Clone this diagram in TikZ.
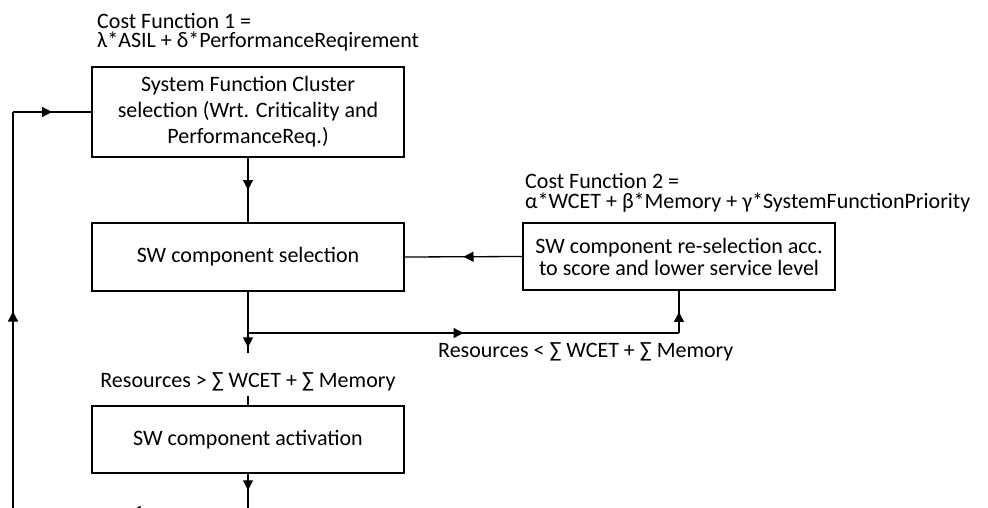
\documentclass[tikz,border=0pt]{standalone}
\usepackage{fontspec}
\setmainfont{Carlito}
\usetikzlibrary{arrows.meta,decorations.markings}
\begin{document}
\begin{tikzpicture}[x=1pt,y=-1pt,
  font=\fontsize{22}{26}\selectfont,
  box/.style={draw, line width=1.9pt, align=center, inner sep=0pt, minimum width=312pt},
  conn/.style={line width=1.3pt},
  midarrow/.style={conn, postaction={decorate}, decoration={markings, mark=at position #1 with {\arrow{Triangle[length=10pt,width=10pt]}}}},
  midarrow/.default=0.5,
  lbl/.style={inner sep=0pt, anchor=base west}
]
\useasboundingbox (0,0) rectangle (988,508);
\clip (0,0) rectangle (988,508);

% boxes
\node[box, minimum height=90pt, font=\fontsize{22}{26}\selectfont] (b1) at (248,112)
  {System Function Cluster\\selection (Wrt. Criticality and\\PerformanceReq.)};
\node[box, minimum height=68pt] (b2) at (248,257) {SW component selection};
\node[box, minimum height=67pt] (b3) at (248,439.5) {SW component activation};
\node[box, minimum height=67pt, font=\fontsize{22}{22}\selectfont] (b4) at (679,256.5)
  {SW component re-selection acc.\\to score and lower service level};

% cost function labels
\node[lbl] (cf1a) at (97,29) {Cost Function 1 =};
\node[lbl] (cf1b) at (97,48) {λ*ASIL + δ*PerformanceReqirement};
\node[lbl] (cf2a) at (525,189) {Cost Function 2 =};
\node[lbl] (cf2b) at (525,208) {α*WCET + β*Memory + γ*SystemFunctionPriority};

% coordinates
\coordinate (br) at (248,333);
\coordinate (bu) at (b4.south |- br);
\coordinate (bc) at (248,511);
\coordinate (lb) at (13,511);
\coordinate (lt) at (13,112);

% connectors
\draw[midarrow] (b1.south) -- (b2.north);
\draw[midarrow=0.49] (b2.south) -- (b3.north);
\draw[midarrow] (br) -- (bu);
\draw[midarrow] (bu) -- (b4.south);
\draw[midarrow] (b4.west) -- (b2.east);
\draw[midarrow=0.44] (b3.south) -- (bc);
\draw[midarrow] (bc) -- (lb);
\draw[midarrow] (lb) -- (lt);
\draw[midarrow] (lt) -- (b1.west);

\node[fill=white, inner xsep=2pt, inner ysep=0pt, text height=34pt, text depth=9pt, anchor=base] (rgt) at (248,387)
  {Resources > ∑ WCET + ∑ Memory};
\node[lbl] (rlt) at (438,357) {Resources < ∑ WCET + ∑ Memory};
\end{tikzpicture}
\end{document}
